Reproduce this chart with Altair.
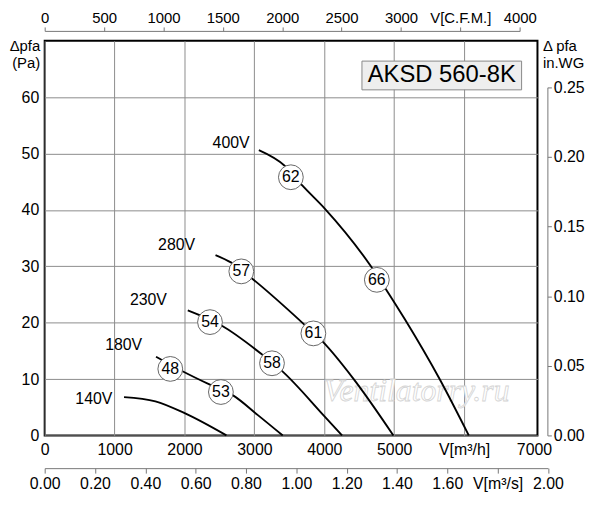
import altair as alt
import pandas as pd

# ---------------- data ----------------
# fan curves: flow V [m3/h] and pressure dpfa [Pa]
q400 = [3064, 3437, 3688, 4010, 4667, 4884, 5153, 5650, 6067]
p400 = [50.6, 47.8, 44.3, 40.2, 30.0, 25.9, 20.6, 10.0, 0.0]
q280 = [2444, 2671, 2979, 3712, 3981, 4421, 4989]
p280 = [32.0, 30.65, 27.7, 19.7, 16.6, 10.0, 0.0]
q230 = [2047, 2530, 3106, 3390, 4010, 4255]
p230 = [22.2, 19.5, 14.4, 11.5, 3.3, 0.0]
q180 = [1593, 1986, 2364, 2695, 3050, 3404]
p180 = [13.95, 11.3, 9.0, 7.1, 3.6, 0.0]
q140 = [1135, 1584, 2010, 2600]
p140 = [6.8, 6.05, 3.9, 0.0]

# voltage labels (anchored at right end of text)
volt_names = ["400V", "280V", "230V", "180V", "140V"]
volt_q = [2932, 2152, 1749, 1395, 969]
volt_p = [51.9, 33.8, 24.0, 16.0, 6.5]

# sound level markers in circles
db_vals = ["62", "66", "57", "61", "54", "58", "48", "53"]
db_q = [3522, 4752, 2813, 3844, 2365, 3252, 1797, 2521]
db_p = [45.8, 27.6, 29.1, 18.1, 20.1, 12.8, 11.8, 7.7]

# axis tick values
mh_ticks = [0, 1000, 2000, 3000, 4000, 5000, 6000, 7000]
pa_ticks = [0, 10, 20, 30, 40, 50, 60]
cfm_ticks = [0, 500, 1000, 1500, 2000, 2500, 3000, 3500, 4000]
ms_ticks = [0.0, 0.2, 0.4, 0.6, 0.8, 1.0, 1.2, 1.4, 1.6, 1.8, 2.0]
inwg_ticks = [0.0, 0.05, 0.10, 0.15, 0.20, 0.25]

title_text = "AKSD 560-8K"
watermark = "Ventilatorry.ru"

# ---------------- tables ----------------
rows = []
for name, qs, ps in [("400V", q400, p400), ("280V", q280, p280), ("230V", q230, p230),
                     ("180V", q180, p180), ("140V", q140, p140)]:
    for a, b in zip(qs, ps):
        rows.append({"series": name, "q": a, "p": b})
curves = pd.DataFrame(rows)
volts = pd.DataFrame({"label": volt_names, "q": volt_q, "p": volt_p})
dbs = pd.DataFrame({"label": db_vals, "q": db_q, "p": db_p})
box = pd.DataFrame({"q": [4539], "q2": [6823], "p": [61.3], "p2": [66.4], "label": [title_text]})
wm = pd.DataFrame({"q": [5320], "p": [7.9], "label": [watermark]})

W, H = 497, 398
X_MAX = 7050
Y_MAX = 70
M3H_PER_CFM = 1.69901
M3H_PER_M3S = 3600
PA_PER_INWG = 247.0
FONT = "Liberation Sans"
GRID = "#8c8c8c"
AX = "#777777"

xs = alt.Scale(domain=[0, X_MAX], nice=False, zero=True)
ys = alt.Scale(domain=[0, Y_MAX], nice=False, zero=True)

x_axis = alt.Axis(
    orient="bottom", values=mh_ticks, title=None, ticks=False, tickSize=0, domain=False,
    grid=True, gridColor=GRID, gridWidth=1,
    gridOpacity={"condition": {"test": "datum.value >= 7000", "value": 0}, "value": 1},
    labelExpr="datum.value == 6000 ? 'V[m³/h]' : datum.label",
    labelFontSize=16, labelPadding=6, labelFlush=False, labelOverlap=False, format="d",
)
y_axis = alt.Axis(
    orient="left", values=pa_ticks, ticks=False, tickSize=0, domain=False,
    grid=True, gridColor=GRID, gridWidth=1,
    labelFontSize=16, labelPadding=6, labelOverlap=False,
    title=["Δpfa", "(Pa)"], titleAngle=0, titleAlign="right", titleBaseline="top",
    titleX=-5, titleY=-2, titleFontSize=15, titleFontWeight="normal", titleLineHeight=17,
)

X = alt.X("q:Q", scale=xs, axis=x_axis)
Y = alt.Y("p:Q", scale=ys, axis=y_axis)

lines = alt.Chart(curves).mark_line(color="black", strokeWidth=1.9, interpolate="monotone").encode(
    x=X, y=Y, detail="series:N"
)
circles = alt.Chart(dbs).mark_point(
    shape="circle", filled=True, fill="white", stroke="#666666", strokeWidth=1, size=625, opacity=1
).encode(x=X, y=Y)
circle_txt = alt.Chart(dbs).mark_text(font=FONT, fontSize=16, color="black").encode(
    x=X, y=Y, text="label:N"
)
volt_txt = alt.Chart(volts).mark_text(font=FONT, fontSize=16, color="black", align="right").encode(
    x=X, y=Y, text="label:N"
)
box_rect = alt.Chart(box).mark_rect(fill="#eeeeee", stroke="#888888", strokeWidth=1).encode(
    x=X, x2="q2:Q", y=Y, y2="p2:Q"
)
box_txt = alt.Chart(box).mark_text(font=FONT, fontSize=24, color="black").encode(
    x=alt.X("qm:Q", scale=xs, axis=x_axis), y=alt.Y("pm:Q", scale=ys, axis=y_axis), text="label:N"
).transform_calculate(qm="(datum.q + datum.q2) / 2", pm="(datum.p + datum.p2) / 2")
wm_txt = alt.Chart(wm).mark_text(
    font="Liberation Serif", fontSize=32, fontStyle="italic", fill="white",
    stroke="#d4d4d4", strokeWidth=0.8
).encode(x=X, y=Y, text="label:N")

main = alt.layer(wm_txt, lines, circles, circle_txt, volt_txt, box_rect, box_txt)

# secondary axes
cfm_layer = alt.Chart(pd.DataFrame({"cfm": cfm_ticks})).mark_point(opacity=0).encode(
    x=alt.X("cfm:Q",
            scale=alt.Scale(domain=[0, 4000], range=[0, 4000 * M3H_PER_CFM / X_MAX * W], nice=False),
            axis=alt.Axis(orient="top", offset=10, values=cfm_ticks, title=None,
                          domainColor=AX, tickColor=AX, tickSize=4, labelPadding=1,
                          labelFontSize=15, labelFlush=False, labelOverlap=False, grid=False,
                          labelExpr="datum.value == 3500 ? 'V[C.F.M.]' : datum.label", format="d")),
    y=alt.value(0),
)
ms_layer = alt.Chart(pd.DataFrame({"ms": ms_ticks})).mark_point(opacity=0).encode(
    x=alt.X("ms:Q",
            scale=alt.Scale(domain=[0, 2], range=[0, 2 * M3H_PER_M3S / X_MAX * W], nice=False),
            axis=alt.Axis(orient="bottom", offset=33, values=ms_ticks, title=None,
                          domainColor=AX, tickColor=AX, tickSize=5, labelPadding=3,
                          labelFontSize=16, labelFlush=False, labelOverlap=False, grid=False,
                          labelExpr="(datum.value > 1.7 && datum.value < 1.9) ? 'V[m³/s]' : format(datum.value, '.2f')")),
    y=alt.value(H),
)
inwg_layer = alt.Chart(pd.DataFrame({"w": inwg_ticks})).mark_point(opacity=0).encode(
    y=alt.Y("w:Q",
            scale=alt.Scale(domain=[0, 0.25], range=[H, H - 0.25 * PA_PER_INWG / Y_MAX * H], nice=False),
            axis=alt.Axis(orient="right", offset=10, values=inwg_ticks, format=".2f",
                          domainColor=AX, tickColor=AX, tickSize=4, labelPadding=2,
                          labelFontSize=16, labelOverlap=False, grid=False,
                          title=["Δ pfa", "in.WG"], titleAngle=0, titleAlign="left",
                          titleBaseline="top", titleX=-5, titleY=-2, titleFontSize=15,
                          titleFontWeight="normal", titleLineHeight=17)),
    x=alt.value(W),
)

chart = (
    alt.layer(main, cfm_layer, ms_layer, inwg_layer)
    .resolve_scale(x="independent", y="independent")
    .properties(width=W, height=H, autosize=alt.AutoSizeParams(type="none"),
                padding={"left": 37, "top": 31, "right": 55, "bottom": 60})
    .configure_view(stroke="black", strokeWidth=2)
    .configure_axis(labelFont=FONT, titleFont=FONT, labelColor="black", titleColor="black")
)

chart.save("out.html", embed_options={"renderer": "svg", "actions": False})
